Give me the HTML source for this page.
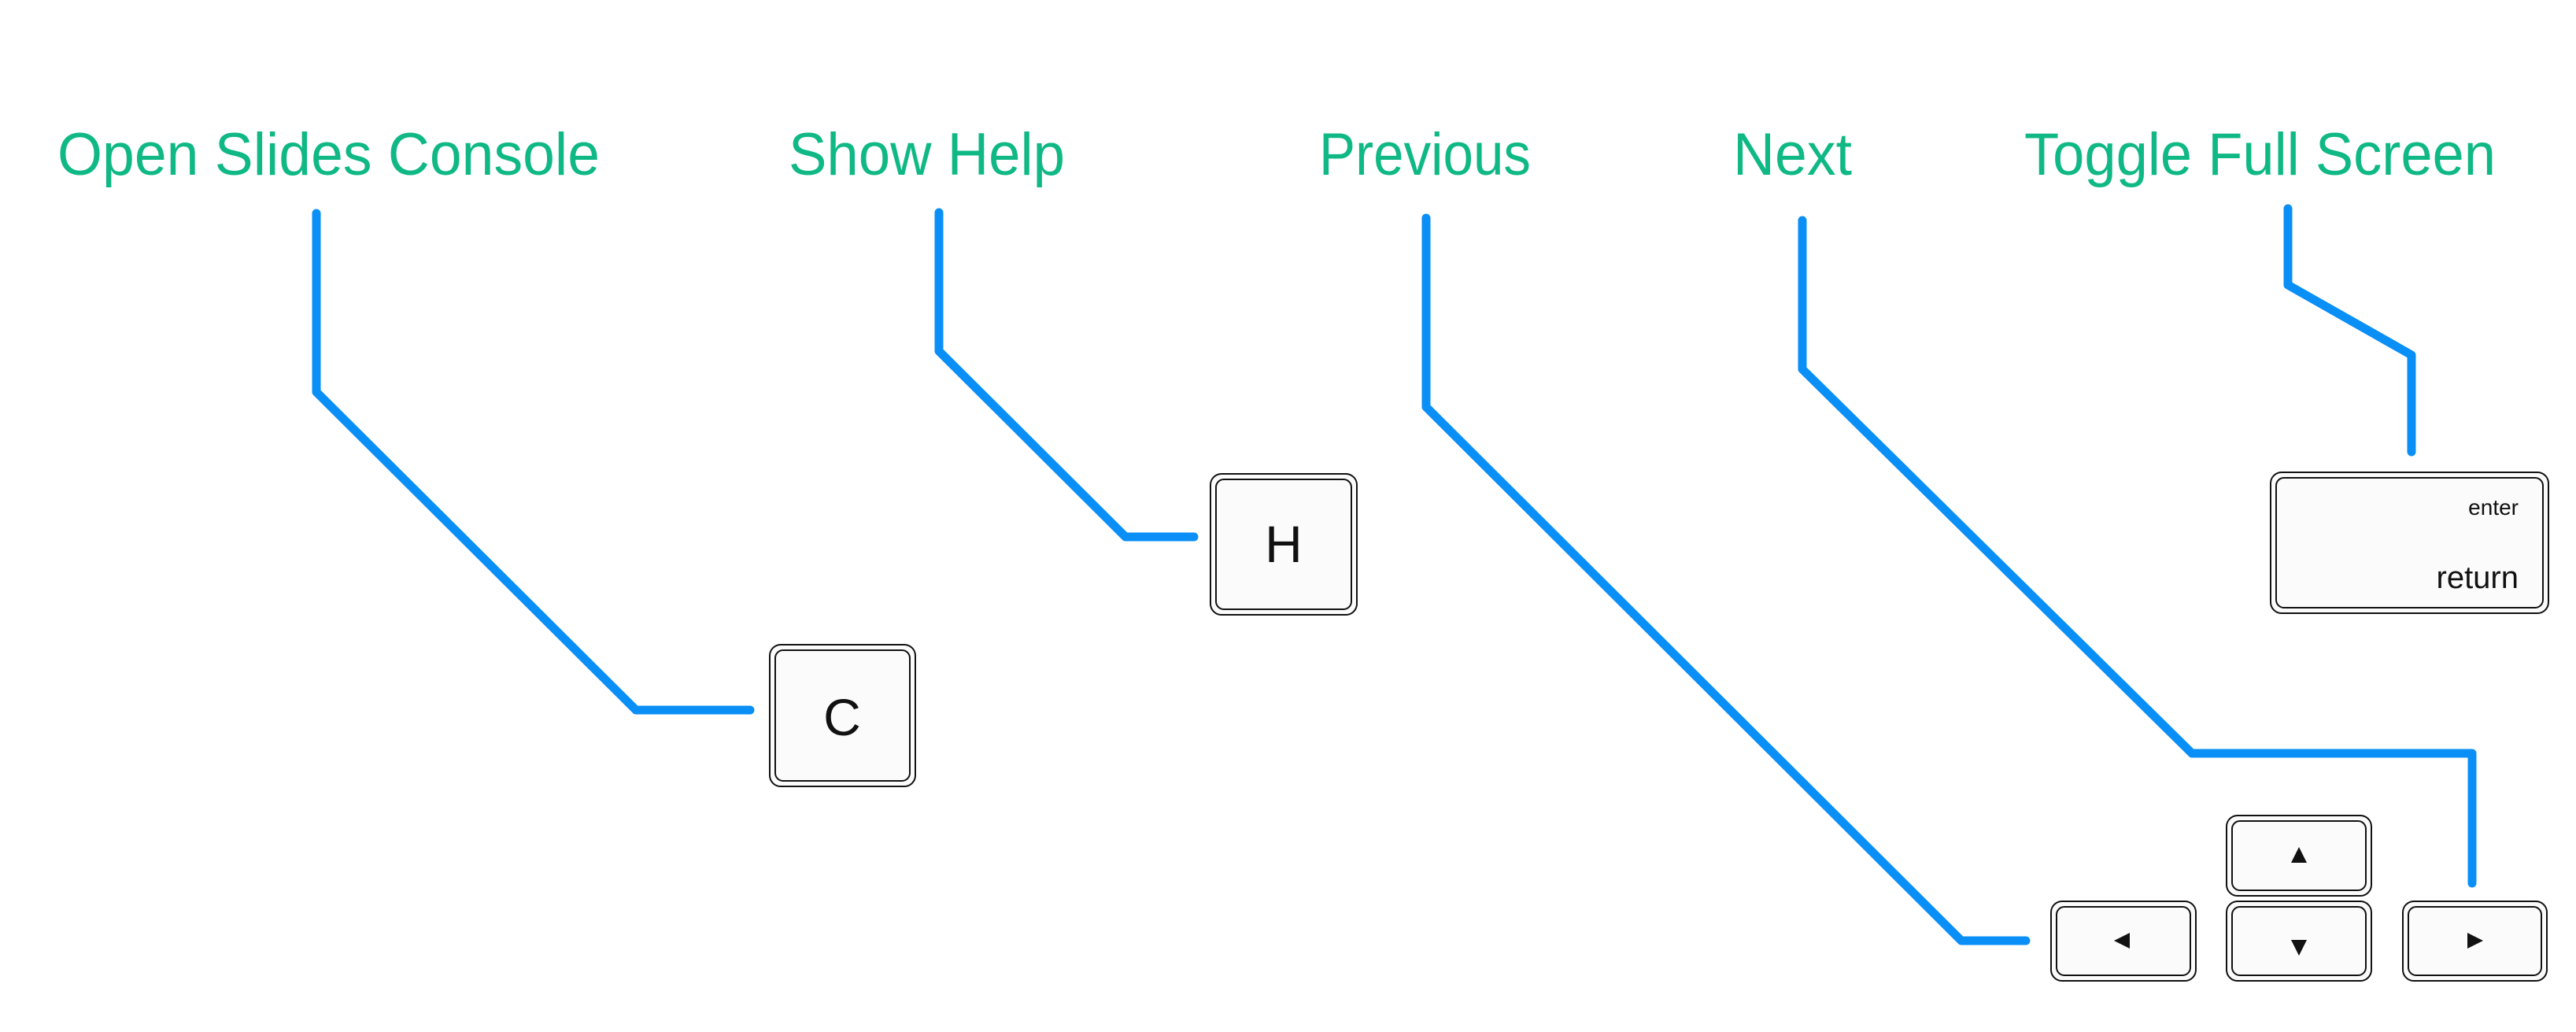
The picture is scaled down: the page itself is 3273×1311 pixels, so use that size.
<!DOCTYPE html>
<html><head><meta charset="utf-8"><style>html,body{margin:0;padding:0;background:#fff}svg{display:block}</style></head>
<body>
<svg width="3273" height="1311" viewBox="0 0 3273 1311" xmlns="http://www.w3.org/2000/svg">
<g font-family="Liberation Sans, sans-serif" font-size="76" fill="#0fb884">
<text x="73" y="222" textLength="689" lengthAdjust="spacingAndGlyphs">Open Slides Console</text>
<text x="1002" y="222" textLength="351" lengthAdjust="spacingAndGlyphs">Show Help</text>
<text x="1676" y="222" textLength="269" lengthAdjust="spacingAndGlyphs">Previous</text>
<text x="2202" y="222" textLength="151" lengthAdjust="spacingAndGlyphs">Next</text>
<text x="2572" y="222" textLength="599" lengthAdjust="spacingAndGlyphs">Toggle Full Screen</text>
</g>
<g fill="none" stroke="#0a8ff7" stroke-width="11" stroke-linecap="round" stroke-linejoin="round">
<polyline points="402,271 402,498 808,902 953,902"/>
<polyline points="1193,270 1193,446 1430,682 1517,682"/>
<polyline points="1812,277 1812,517 2492,1195 2574,1195"/>
<polyline points="2290,280 2290,469 2785,957 3141,957 3141,1122"/>
<polyline points="2907,265 2907,362 3064,451 3064,574"/>
</g>
<g fill="#fbfbfb" stroke="#111" stroke-width="2">
<rect x="978" y="819" width="185" height="180" rx="14"/><rect x="985" y="826" width="171" height="166" rx="10"/>
<rect x="1538" y="602" width="186" height="179" rx="14"/><rect x="1545" y="609" width="172" height="165" rx="10"/>
<rect x="2885" y="600" width="353" height="179" rx="14"/><rect x="2892" y="607" width="339" height="165" rx="10"/>
<rect x="2606" y="1145" width="184" height="101" rx="14"/><rect x="2613" y="1152" width="170" height="87" rx="10"/>
<rect x="2829" y="1036" width="184" height="102" rx="14"/><rect x="2836" y="1043" width="170" height="88" rx="10"/>
<rect x="2829" y="1145" width="184" height="101" rx="14"/><rect x="2836" y="1152" width="170" height="87" rx="10"/>
<rect x="3053" y="1145" width="183" height="101" rx="14"/><rect x="3060" y="1152" width="169" height="87" rx="10"/>
</g>
<g font-family="Liberation Sans, sans-serif" fill="#111" text-anchor="middle">
<text x="1070" y="934" font-size="66">C</text>
<text x="1631" y="714" font-size="66">H</text>
<text x="3200" y="654" font-size="28" text-anchor="end">enter</text>
<text x="3200" y="747" font-size="40" text-anchor="end">return</text>
</g>
<g fill="#111">
<polygon points="2686,1195 2706,1185 2706,1205"/>
<polygon points="2921,1076 2911,1096 2931,1096"/>
<polygon points="2921,1214 2911,1194 2931,1194"/>
<polygon points="3155,1195 3135,1185 3135,1205"/>
</g>
</svg>
</body></html>
